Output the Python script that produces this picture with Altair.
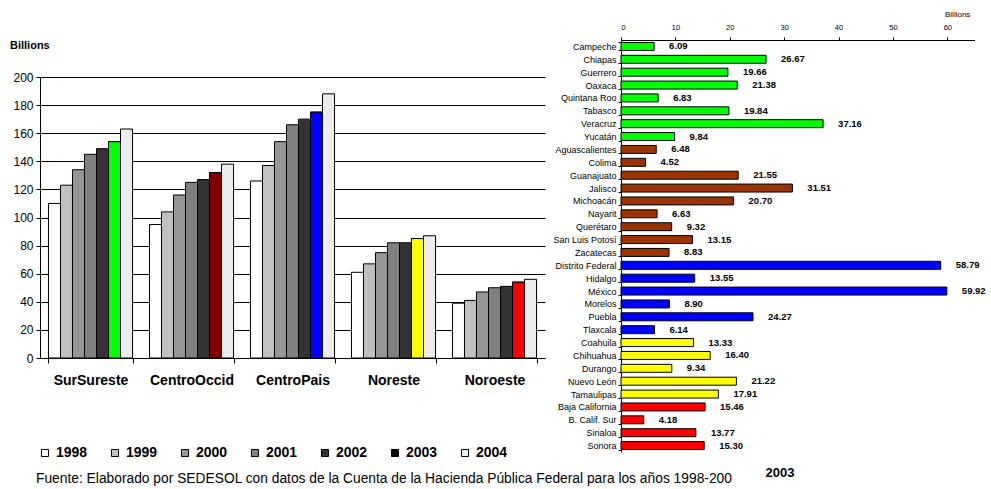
import altair as alt
import pandas as pd

FONT = "Liberation Sans"

# ---------------- Left chart data (Billions) ----------------
regions = ["SurSureste", "CentroOccid", "CentroPais", "Noreste", "Noroeste"]
years = ["1998", "1999", "2000", "2001", "2002", "2003", "2004"]
sursureste = [110, 123, 134, 145, 149, 154, 163]
centrooccid = [95, 104, 116, 125, 127, 132, 138]
centropais = [126, 137, 154, 166, 170, 175, 188]
noreste = [61, 67, 75, 82, 82, 85, 87]
noroeste = [39, 41, 47, 50, 51, 54, 56]
region_series = [sursureste, centrooccid, centropais, noreste, noroeste]

year_colors = ["#FFFFFF", "#C0C0C0", "#969696", "#808080", "#333333", "#000000", "#ECECEC"]
left_2003_colors = ["#00FF00", "#800000", "#0000FF", "#FFFF00", "#FF0000"]

# ---------------- Right chart data (2003, Billions) ----------------
states_sursureste = ["Campeche", "Chiapas", "Guerrero", "Oaxaca", "Quintana Roo",
                     "Tabasco", "Veracruz", "Yucatán"]
values_sursureste = [6.09, 26.67, 19.66, 21.38, 6.83, 19.84, 37.16, 9.84]
states_centrooccid = ["Aguascalientes", "Colima", "Guanajuato", "Jalisco", "Michoacán",
                      "Nayarit", "Querétaro", "San Luis Potosí", "Zacatecas"]
values_centrooccid = [6.48, 4.52, 21.55, 31.51, 20.70, 6.63, 9.32, 13.15, 8.83]
states_centropais = ["Distrito Federal", "Hidalgo", "México", "Morelos", "Puebla", "Tlaxcala"]
values_centropais = [58.79, 13.55, 59.92, 8.90, 24.27, 6.14]
states_noreste = ["Coahuila", "Chihuahua", "Durango", "Nuevo León", "Tamaulipas"]
values_noreste = [13.33, 16.40, 9.34, 21.22, 17.91]
states_noroeste = ["Baja California", "B. Calif. Sur", "Sinaloa", "Sonora"]
values_noroeste = [15.46, 4.18, 13.77, 15.30]

right_colors = ["#00FF00", "#993300", "#0000FF", "#FFFF00", "#FF0000"]

# ---------------- Tables ----------------
left_rows = []
for r, series in zip(regions, region_series):
    for y, v in zip(years, series):
        left_rows.append({"region": r, "year": y, "value": v})
left_df = pd.DataFrame(left_rows)

right_rows = []
all_states = []
for r, sts, vals in zip(
    regions,
    [states_sursureste, states_centrooccid, states_centropais, states_noreste, states_noroeste],
    [values_sursureste, values_centrooccid, values_centropais, values_noreste, values_noroeste],
):
    for s, v in zip(sts, vals):
        right_rows.append({"region": r, "state": s, "value": v})
        all_states.append(s)
right_df = pd.DataFrame(right_rows)

H = 489

# ---------------- Left chart ----------------
x_left = alt.X(
    "region:N",
    sort=regions,
    scale=alt.Scale(domain=regions, range=[40, 545], paddingInner=0.168, paddingOuter=0.084),
    axis=alt.Axis(
        orient="bottom", offset=358 - H, title=None, labelAngle=0,
        labelFontSize=14, labelFontWeight="bold", labelFont=FONT, labelColor="black",
        tickBand="extent", tickSize=5, tickColor="black", domainColor="black",
        labelPadding=10,
    ),
)
y_left = alt.Y(
    "value:Q",
    scale=alt.Scale(domain=[0, 200], range=[358, 77], nice=False, zero=True),
    axis=alt.Axis(
        orient="left", offset=-40, title=None, values=list(range(0, 201, 20)),
        labelFontSize=12, labelFont=FONT, labelColor="black",
        tickSize=4, tickColor="black", domainColor="black",
        grid=True, gridColor="black", gridWidth=1, labelPadding=3,
    ),
)
xo_left = alt.XOffset(
    "year:N", sort=years,
    scale=alt.Scale(domain=years, paddingInner=0, paddingOuter=0),
)

bars_left = alt.Chart(left_df).mark_bar(stroke="black", strokeWidth=1).encode(
    x=x_left,
    xOffset=xo_left,
    y=y_left,
    fill=alt.Fill(
        "year:N",
        sort=years,
        scale=alt.Scale(domain=years, range=year_colors),
        legend=alt.Legend(
            orient="none", legendX=38, legendY=446, direction="horizontal", columns=7,
            title=None, symbolType="square", symbolSize=50,
            symbolStrokeColor="black", symbolStrokeWidth=1, symbolOpacity=1,
            labelFontSize=14, labelFontWeight="bold", labelFont=FONT, labelColor="black",
            labelOffset=4, columnPadding=20,
        ),
    ),
)

bars_left_2003 = alt.Chart(left_df).transform_filter(
    alt.datum.year == "2003"
).mark_bar(stroke="black", strokeWidth=1).encode(
    x=x_left,
    xOffset=xo_left,
    y=y_left,
    fill=alt.Fill(
        "region:N",
        scale=alt.Scale(domain=regions, range=left_2003_colors),
        legend=None,
    ),
)

left = alt.layer(bars_left, bars_left_2003).resolve_scale(fill="independent")

# ---------------- Right chart ----------------
x_right = alt.X(
    "value:Q",
    scale=alt.Scale(domain=[0, 65], range=[621, 974.5], nice=False),
    axis=alt.Axis(
        orient="top", offset=-40, title=None, values=[0, 10, 20, 30, 40, 50, 60],
        labelFontSize=7.5, labelFont=FONT, labelColor="black",
        tickSize=3, tickColor="black", domainColor="black", labelPadding=6, grid=False,
    ),
)
y_right = alt.Y(
    "state:N",
    sort=all_states,
    scale=alt.Scale(domain=all_states, range=[40, 452], paddingInner=0.38, paddingOuter=0.19),
    axis=alt.Axis(
        orient="left", offset=-621, title=None,
        labelFontSize=9, labelFont=FONT, labelColor="black",
        tickBand="extent", tickSize=3, tickColor="black", domainColor="black",
        labelPadding=2,
    ),
)

bars_right = alt.Chart(right_df).mark_bar(stroke="black", strokeWidth=1).encode(
    x=x_right,
    y=y_right,
    fill=alt.Fill(
        "region:N",
        scale=alt.Scale(domain=regions, range=right_colors),
        legend=None,
    ),
)
labels_right = alt.Chart(right_df).mark_text(
    align="left", baseline="middle", dx=15, fontSize=9.5, fontWeight="bold",
    font=FONT, color="black",
).encode(
    x=x_right,
    y=y_right,
    text=alt.Text("value:Q", format=".2f"),
)
right = alt.layer(bars_right, labels_right)

# ---------------- Free texts ----------------
def free_text(txt, x, y, size, weight="normal", align="left"):
    return alt.Chart(pd.DataFrame({"t": [txt]})).mark_text(
        align=align, baseline="middle", fontSize=size, fontWeight=weight,
        font=FONT, color="black",
    ).encode(text="t:N", x=alt.value(x), y=alt.value(y))

t_billions_left = free_text("Billions", 10, 46, 11, "bold")
t_billions_right = free_text("Billions", 945, 15, 8)
t_2003 = free_text("2003", 780, 473, 13, "bold", "center")
t_footer = free_text(
    "Fuente: Elaborado por SEDESOL con datos de la Cuenta de la Hacienda Pública Federal para los años 1998-200",
    36, 479, 13.8,
)

chart = alt.layer(
    left, right, t_billions_left, t_billions_right, t_2003, t_footer
).resolve_scale(
    x="independent", y="independent", fill="independent"
).properties(
    width=991, height=H, padding=0,
    autosize=alt.AutoSizeParams(type="none"),
    background="white",
).configure_view(stroke=None)

chart.save("out.html", embed_options={"renderer": "svg", "actions": False})
